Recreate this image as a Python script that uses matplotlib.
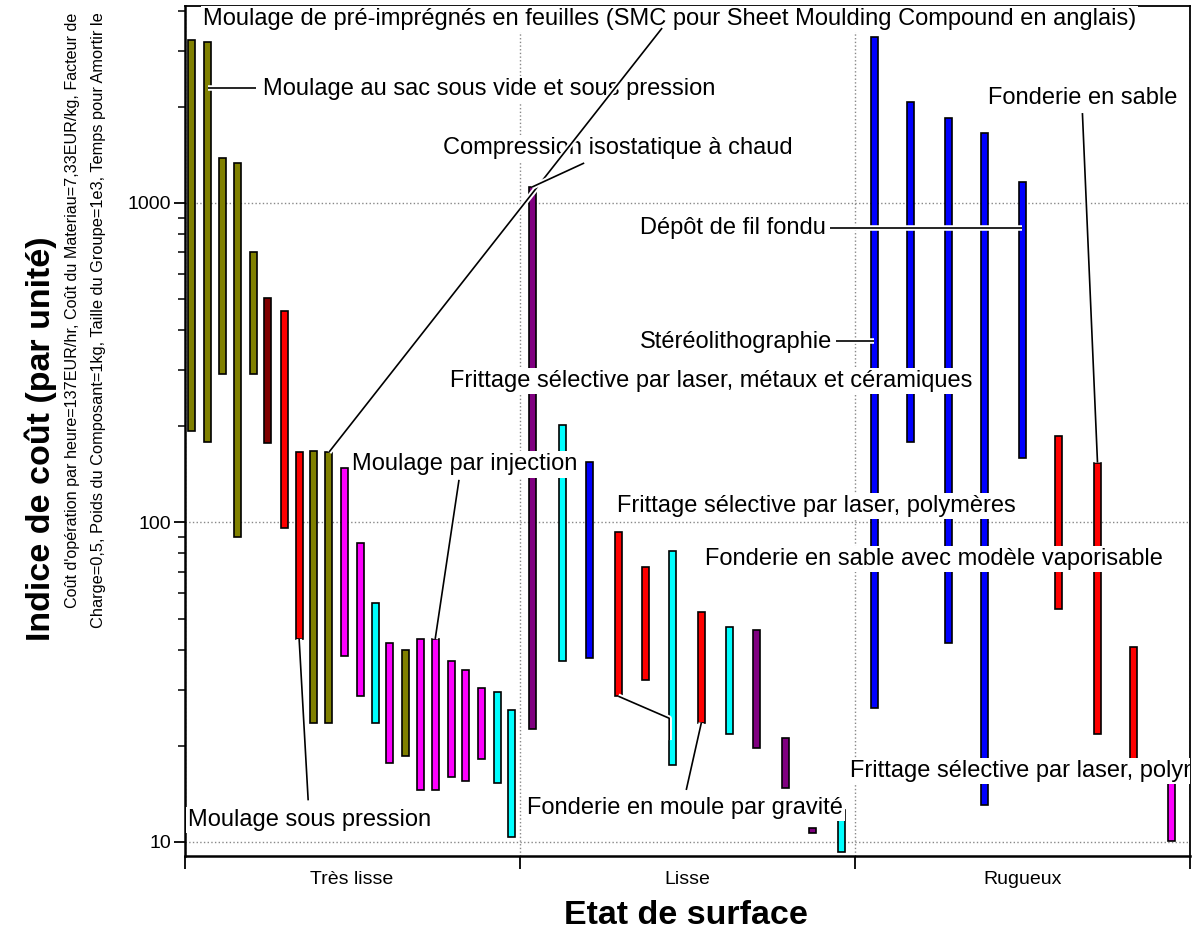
import matplotlib
matplotlib.use('Agg')
import matplotlib.pyplot as plt
import matplotlib.patheffects as pe
from matplotlib.ticker import LogLocator, NullFormatter

plt.rcParams['font.family'] = ['Liberation Sans', 'DejaVu Sans']

# surface finish classes on the x axis
surface_labels = ['Très lisse', 'Lisse', 'Rugueux']
surface_pos = [0.5, 1.5, 2.5]

# one bar per process: position, low / high cost index, colour code
bar_x = [0.022, 0.070, 0.113, 0.157, 0.205, 0.249, 0.297, 0.342, 0.384, 0.431,
         0.476, 0.524, 0.569, 0.612, 0.658, 0.703, 0.748, 0.796, 0.837, 0.885,
         0.933, 0.975,
         1.037, 1.127, 1.208, 1.294, 1.375, 1.455, 1.542, 1.625, 1.706, 1.793,
         1.873, 1.960,
         2.058, 2.166, 2.279, 2.387, 2.500, 2.608, 2.724, 2.831, 2.945]
bar_lo = [193, 179, 292, 90.1, 292, 177, 96.1, 43.2, 23.6, 23.6,
          38.2, 28.6, 23.6, 17.7, 18.6, 14.55, 14.55, 15.97, 15.5, 18.2,
          15.3, 10.4,
          22.6, 36.9, 37.7, 28.6, 32.1, 17.4, 23.6, 21.8, 19.7, 14.8,
          10.7, 9.3,
          26.3, 179, 42.0, 13.1, 159, 53.6, 21.8, 17.0, 10.1]
bar_hi = [3236, 3190, 1383, 1334, 702, 504, 459, 166, 167, 166,
          148, 86.3, 56.0, 42.0, 39.9, 43.2, 43.2, 36.9, 34.5, 30.3,
          29.5, 25.9,
          1122, 202, 155, 93.4, 72.6, 81.4, 52.5, 47.1, 46.1, 21.2,
          11.1, 12.6,
          3307, 2071, 1845, 1656, 1163, 187, 154, 40.8, 16.0]
bar_code = list('OOOOODRROOMMCMOMMMMMCC' 'PCBRRCRCPPPC' 'BBBBBRRRM')

palette = {'O': '#808000', 'D': '#800000', 'R': '#ff0000', 'M': '#ff00ff',
           'C': '#00ffff', 'P': '#800080', 'B': '#0000ff'}

fig = plt.figure(figsize=(11.98, 9.31), dpi=100)
ax = fig.add_axes([184.5 / 1198, 1 - 856 / 931, (1190 - 184.5) / 1198, (856 - 6) / 931])
ax.set_yscale('log')
ax.set_xlim(0, 3)
ax.set_ylim(9.04, 4136)

heights = [h - l for l, h in zip(bar_lo, bar_hi)]
ax.bar(bar_x, heights, bottom=bar_lo, width=0.021,
       color=[palette[c] for c in bar_code], edgecolor='black', linewidth=1.2, zorder=2)

halo = [pe.withStroke(linewidth=4, foreground='white')]


def link(xs, ys):
    ax.plot(xs, ys, color='black', lw=1.2, zorder=5, path_effects=halo,
            solid_capstyle='butt')


def label(x, y, s, clip=False):
    t = ax.text(x, y, s, fontsize=17, ha='left', va='center', zorder=4,
                bbox=dict(facecolor='white', edgecolor='none', pad=1.5))
    if clip:
        t.set_clip_on(True)


label(0.055, 3766, 'Moulage de pré-imprégnés en feuilles (SMC pour Sheet Moulding Compound en anglais)')
label(0.234, 2275, 'Moulage au sac sous vide et sous pression')
label(0.772, 1486, 'Compression isostatique à chaud')
label(1.360, 835, 'Dépôt de fil fondu')
label(1.360, 367, 'Stéréolithographie')
label(0.793, 277, 'Frittage sélective par laser, métaux et céramiques')
label(0.500, 152, 'Moulage par injection')
label(1.291, 112.6, 'Frittage sélective par laser, polymères')
label(1.554, 76.9, 'Fonderie en sable avec modèle vaporisable')
label(0.010, 11.7, 'Moulage sous pression')
label(1.022, 12.8, 'Fonderie en moule par gravité')
label(2.396, 2131, 'Fonderie en sable')
label(1.987, 16.7, 'Frittage sélective par laser, polymères', clip=True)

# leader lines from the labels to their bars
link([1.425, bar_x[9]], [3529, bar_hi[9]])
link([bar_x[1], 0.212], [2290, 2290])
link([1.1925, bar_x[22]], [1334, bar_hi[22]])
link([1.927, bar_x[38]], [835, 835])
link([1.945, bar_x[34]], [370, 370])
link([0.819, bar_x[16]], [136, bar_hi[16]])
link([0.369, bar_x[7]], [13.5, bar_lo[7]])
link([1.497, bar_x[28]], [14.55, bar_lo[28]])
link([bar_x[25], 1.446, 1.446], [bar_lo[25], 24.4, 20.85])
link([2.679, bar_x[40]], [1912, bar_hi[40]])

# axes styling
ax.set_yticks([10, 100, 1000], ['10', '100', '1000'])
ax.yaxis.set_minor_locator(LogLocator(base=10, subs=range(2, 10)))
ax.yaxis.set_minor_formatter(NullFormatter())
ax.tick_params(axis='y', which='major', length=8, width=1.3, labelsize=14, pad=1.5)
ax.tick_params(axis='y', which='minor', length=5, width=1.1)
ax.set_xticks([0, 1, 2, 3], ['', '', '', ''])
ax.set_xticks(surface_pos, surface_labels, minor=True)
ax.tick_params(axis='x', which='major', length=9, width=1.3)
ax.tick_params(axis='x', which='minor', length=0, labelsize=14, pad=11)
ax.grid(True, which='major', linestyle=':', color='#888888', linewidth=1)
ax.set_axisbelow(True)
for side in ['left', 'bottom']:
    ax.spines[side].set_linewidth(1.8)
for side in ['top', 'right']:
    ax.spines[side].set_linewidth(1.3)

fig.text(686 / 1198, 1 - 924 / 931, 'Etat de surface', fontsize=24.5, fontweight='bold',
         ha='center', va='baseline')
fig.text(41 / 1198, 1 - 439 / 931, 'Indice de coût (par unité)', fontsize=24.5,
         fontweight='bold', rotation=90, ha='center', va='center')
fig.text(72 / 1198, 1 - 608 / 931,
         "Coût d'opération par heure=137EUR/hr, Coût du Materiau=7,33EUR/kg, Facteur de",
         fontsize=11.6, rotation=90, rotation_mode='anchor', ha='left', va='center')
fig.text(98 / 1198, 1 - 628 / 931,
         'Charge=0,5, Poids du Composant=1kg, Taille du Groupe=1e3, Temps pour Amortir le',
         fontsize=11.8, rotation=90, rotation_mode='anchor', ha='left', va='center')

fig.savefig('out.png', dpi=100)
